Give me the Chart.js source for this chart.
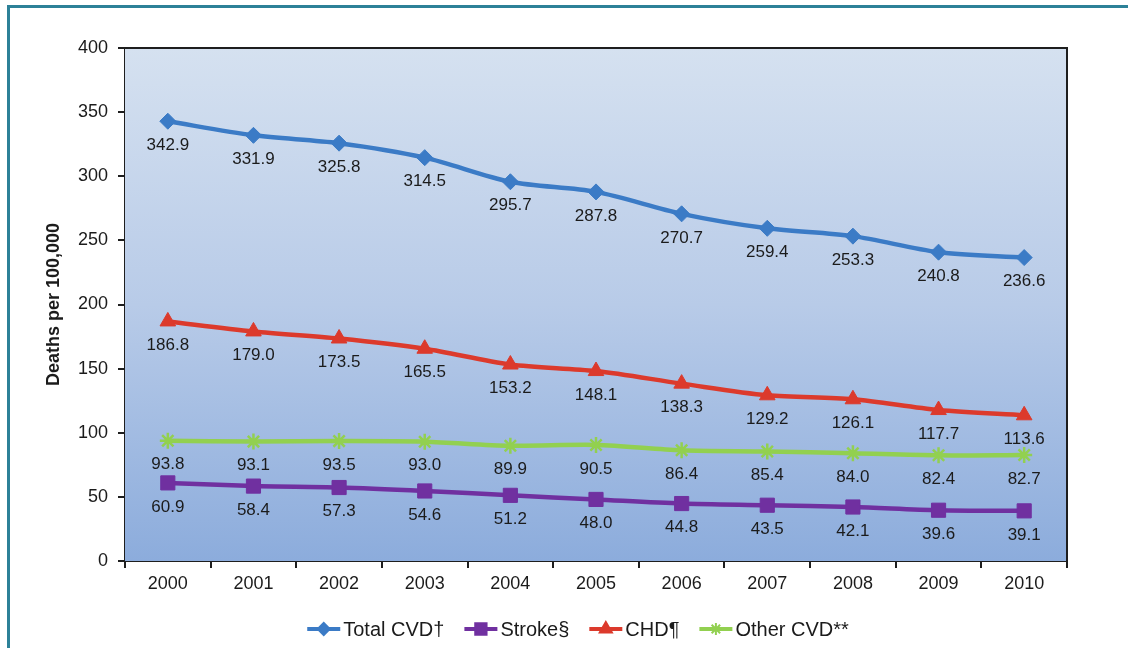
<!DOCTYPE html>
<html>
<head>
<meta charset="utf-8">
<script src="https://cdn.jsdelivr.net/npm/chart.js@4.4.1/dist/chart.umd.min.js"></script>
<style>
  html, body { margin: 0; padding: 0; background: #ffffff; }
  #wrap { width: 1128px; height: 648px; position: relative; }
  canvas { display: block; }
</style>
</head>
<body>
<div id="wrap"><canvas id="chart" width="1128" height="648"></canvas></div>
<script>
// Age-adjusted death rates, 2000-2010
const years = ['2000', '2001', '2002', '2003', '2004', '2005', '2006', '2007', '2008', '2009', '2010'];
const totalCvd = [342.9, 331.9, 325.8, 314.5, 295.7, 287.8, 270.7, 259.4, 253.3, 240.8, 236.6];
const stroke   = [60.9, 58.4, 57.3, 54.6, 51.2, 48.0, 44.8, 43.5, 42.1, 39.6, 39.1];
const chd      = [186.8, 179.0, 173.5, 165.5, 153.2, 148.1, 138.3, 129.2, 126.1, 117.7, 113.6];
const otherCvd = [93.8, 93.1, 93.5, 93.0, 89.9, 90.5, 86.4, 85.4, 84.0, 82.4, 82.7];
const seriesNames = ['Total CVD\u2020', 'Stroke\u00a7', 'CHD\u00b6', 'Other CVD**'];
const yMin = 0, yMax = 400, yStep = 50;
const yTitle = 'Deaths per 100,000';

const FONT = '"Liberation Sans", Arial, Helvetica, sans-serif';
const INK = '#1b1b1b';

// Page frame: teal rule along the top and left edges
const framePlugin = {
  id: 'pageFrame',
  beforeDraw(chart) {
    const ctx = chart.ctx;
    ctx.save();
    ctx.fillStyle = '#2d8198';
    ctx.fillRect(7, 5, chart.width - 7, 3);
    ctx.fillRect(7, 5, 3, chart.height - 5);
    ctx.restore();
  }
};

// Plot area: vertical gradient fill plus dark box outline
const plotAreaPlugin = {
  id: 'plotArea',
  beforeDatasetsDraw(chart) {
    const { ctx, chartArea: a } = chart;
    ctx.save();
    const g = ctx.createLinearGradient(0, a.top, 0, a.bottom);
    g.addColorStop(0, '#d5e1f0');
    g.addColorStop(0.5, '#b8cbe8');
    g.addColorStop(1, '#8cacdc');
    ctx.fillStyle = g;
    ctx.fillRect(a.left, a.top, a.right - a.left, a.bottom - a.top);
    ctx.strokeStyle = '#1e1e1e';
    ctx.lineWidth = 2;
    ctx.beginPath();
    ctx.moveTo(a.left, a.top);
    ctx.lineTo(a.right, a.top);
    ctx.lineTo(a.right, a.bottom + 7);
    ctx.stroke();
    ctx.restore();
  }
};

// Value labels printed under each marker
const valueLabelPlugin = {
  id: 'valueLabels',
  afterDatasetsDraw(chart) {
    const ctx = chart.ctx;
    ctx.save();
    ctx.font = '17px ' + FONT;
    ctx.fillStyle = INK;
    ctx.textAlign = 'center';
    ctx.textBaseline = 'middle';
    chart.data.datasets.forEach((ds, i) => {
      chart.getDatasetMeta(i).data.forEach((pt, j) => {
        ctx.fillText(ds.data[j].toFixed(1), pt.x, pt.y + 24);
      });
    });
    ctx.restore();
  }
};

// Legend row: short line with the series marker, then the name
const legendRowPlugin = {
  id: 'legendRow',
  afterDraw(chart, args, opts) {
    const ctx = chart.ctx;
    ctx.save();
    ctx.font = opts.fontSize + 'px ' + FONT;
    ctx.textBaseline = 'middle';
    ctx.textAlign = 'left';
    const items = chart.data.datasets.map(ds => ({ ds, w: ctx.measureText(ds.label).width }));
    const total = items.reduce((s, it) => s + opts.symbolWidth + opts.textGap + it.w, 0)
      + opts.spacing * (items.length - 1);
    let x = opts.centerX - total / 2;
    const y = opts.y;
    items.forEach(it => {
      const ds = it.ds;
      ctx.strokeStyle = ds.borderColor;
      ctx.fillStyle = ds.borderColor;
      ctx.lineWidth = 4;
      ctx.beginPath();
      ctx.moveTo(x, y);
      ctx.lineTo(x + opts.symbolWidth, y);
      ctx.stroke();
      ctx.lineWidth = 2;
      Chart.helpers.drawPoint(ctx, {
        pointStyle: ds.pointStyle,
        radius: ds.legendRadius,
        borderWidth: 2,
        rotation: 0
      }, x + opts.symbolWidth / 2, y);
      ctx.fillStyle = INK;
      ctx.fillText(ds.label, x + opts.symbolWidth + opts.textGap, y + 1);
      x += opts.symbolWidth + opts.textGap + it.w + opts.spacing;
    });
    ctx.restore();
  }
};

function series(label, data, color, style, radius, legendRadius) {
  return {
    label, data,
    borderColor: color,
    backgroundColor: color,
    pointBackgroundColor: color,
    pointBorderColor: color,
    pointStyle: style,
    pointRadius: radius,
    pointHoverRadius: radius,
    pointBorderWidth: style === 'star' ? 2.5 : 1,
    borderWidth: 4.5,
    tension: 0.3,
    legendRadius
  };
}

new Chart(document.getElementById('chart'), {
  type: 'line',
  data: {
    labels: years,
    datasets: [
      series(seriesNames[0], totalCvd, '#3b7bc6', 'rectRot', 8, 6),
      series(seriesNames[1], stroke, '#7030a0', 'rect', 10, 8),
      series(seriesNames[2], chd, '#dc3a2c', 'triangle', 9, 7),
      series(seriesNames[3], otherCvd, '#92d050', 'star', 8, 6)
    ]
  },
  options: {
    responsive: false,
    animation: false,
    events: [],
    layout: { padding: { left: 43, right: 61, top: 48, bottom: 0 } },
    scales: {
      x: {
        offset: true,
        grid: { display: true, offset: true, drawOnChartArea: false, drawTicks: true, tickLength: 7, color: '#1e1e1e', lineWidth: 2 },
        border: { display: true, color: '#1e1e1e', width: 2 },
        ticks: { color: INK, font: { family: FONT, size: 18 }, padding: 5, maxRotation: 0 },
        afterFit(scale) { scale.height = 87; }
      },
      y: {
        min: yMin, max: yMax,
        grid: { display: true, drawOnChartArea: false, drawTicks: true, tickLength: 7, color: '#1e1e1e', lineWidth: 2 },
        border: { display: true, color: '#1e1e1e', width: 2 },
        ticks: { stepSize: yStep, color: INK, font: { family: FONT, size: 18 }, padding: 10 },
        title: { display: true, text: yTitle, color: INK, font: { family: FONT, size: 18, weight: 'bold' }, padding: 0 },
        afterFit(scale) { scale.width = 82; }
      }
    },
    plugins: {
      legend: { display: false },
      tooltip: { enabled: false },
      legendRow: { fontSize: 20, symbolWidth: 33, textGap: 3, spacing: 20, centerX: 578, y: 629 }
    }
  },
  plugins: [framePlugin, plotAreaPlugin, valueLabelPlugin, legendRowPlugin]
});
</script>
</body>
</html>
